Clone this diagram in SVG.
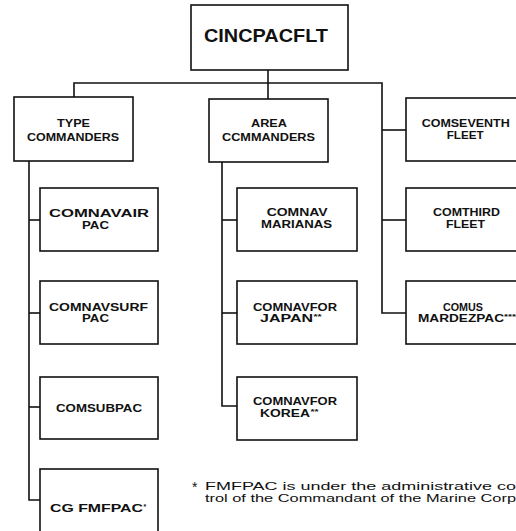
<svg xmlns="http://www.w3.org/2000/svg" width="516" height="531" viewBox="0 0 516 531">
<style>
.box{fill:#fff;stroke:#111;stroke-width:1.6}
.lbl{font-family:"Liberation Sans",Arial,sans-serif;font-weight:bold;font-size:11px;fill:#111}
.ast{font-family:"Liberation Sans",Arial,sans-serif;font-weight:bold;font-size:7px;fill:#111}
.conn{fill:none;stroke:#111;stroke-width:1.6}
.note{font-family:"Liberation Sans",Arial,sans-serif;font-size:11.5px;fill:#111}
</style>
<rect width="516" height="531" fill="#fff"/>
<g id="connectors" class="conn">
<path d="M268 70 V99"/>
<path d="M74 97 V83 H382 V313 H406"/>
<path d="M382 130 H406"/>
<path d="M382 220 H406"/>
<path d="M29 161 V500 H40"/>
<path d="M29 220 H40"/>
<path d="M29 313 H40"/>
<path d="M29 407 H40"/>
<path d="M222 162 V406 H237"/>
<path d="M222 220 H237"/>
<path d="M222 313 H237"/>
</g>
<g id="cincpacflt">
<rect class="box" x="191" y="5" width="157" height="65"/>
<text class="lbl" x="204" y="42" style="font-size:19px" textLength="124" lengthAdjust="spacingAndGlyphs">CINCPACFLT</text>
</g>
<g id="type-commanders">
<rect class="box" x="14" y="97" width="119" height="64"/>
<text class="lbl" x="57" y="127" textLength="33" lengthAdjust="spacingAndGlyphs">TYPE</text>
<text class="lbl" x="27" y="141" textLength="92" lengthAdjust="spacingAndGlyphs">COMMANDERS</text>
</g>
<g id="area-commanders">
<rect class="box" x="209" y="99" width="119" height="63"/>
<text class="lbl" x="251" y="127" textLength="36" lengthAdjust="spacingAndGlyphs">AREA</text>
<text class="lbl" x="222" y="141" textLength="93" lengthAdjust="spacingAndGlyphs">CCMMANDERS</text>
</g>
<g id="comseventh-fleet">
<rect class="box" x="406" y="98" width="119" height="63"/>
<text class="lbl" x="421.7" y="126.7" textLength="88" lengthAdjust="spacingAndGlyphs">COMSEVENTH</text>
<text class="lbl" x="446.7" y="139" textLength="37" lengthAdjust="spacingAndGlyphs">FLEET</text>
</g>
<g id="comnavair-pac">
<rect class="box" x="40" y="188" width="118" height="63"/>
<text class="lbl" x="49" y="217" textLength="100" lengthAdjust="spacingAndGlyphs">COMNAVAIR</text>
<text class="lbl" x="82" y="229" textLength="27" lengthAdjust="spacingAndGlyphs">PAC</text>
</g>
<g id="comnavsurf-pac">
<rect class="box" x="40" y="281" width="118" height="63"/>
<text class="lbl" x="49" y="310.5" textLength="99" lengthAdjust="spacingAndGlyphs">COMNAVSURF</text>
<text class="lbl" x="82" y="322" textLength="27" lengthAdjust="spacingAndGlyphs">PAC</text>
</g>
<g id="comsubpac">
<rect class="box" x="40" y="377" width="118" height="62"/>
<text class="lbl" x="56" y="412" textLength="86" lengthAdjust="spacingAndGlyphs">COMSUBPAC</text>
</g>
<g id="cg-fmfpac">
<rect class="box" x="40" y="469" width="118" height="66"/>
<text class="lbl" x="50" y="512" textLength="93" lengthAdjust="spacingAndGlyphs">CG FMFPAC</text>
<text class="ast" x="143.5" y="509">*</text>
</g>
<g id="comnav-marianas">
<rect class="box" x="237" y="188" width="120" height="63"/>
<text class="lbl" x="266.7" y="215.7" textLength="61" lengthAdjust="spacingAndGlyphs">COMNAV</text>
<text class="lbl" x="261" y="228.3" textLength="71" lengthAdjust="spacingAndGlyphs">MARIANAS</text>
</g>
<g id="comnavfor-japan">
<rect class="box" x="237" y="281" width="120" height="63"/>
<text class="lbl" x="253" y="310.5" textLength="84" lengthAdjust="spacingAndGlyphs">COMNAVFOR</text>
<text class="lbl" x="260" y="322" textLength="53" lengthAdjust="spacingAndGlyphs">JAPAN</text>
<text class="ast" x="313.5" y="319" textLength="8" lengthAdjust="spacingAndGlyphs">**</text>
</g>
<g id="comnavfor-korea">
<rect class="box" x="237" y="377" width="120" height="63"/>
<text class="lbl" x="253" y="405" textLength="84" lengthAdjust="spacingAndGlyphs">COMNAVFOR</text>
<text class="lbl" x="260" y="417" textLength="50" lengthAdjust="spacingAndGlyphs">KOREA</text>
<text class="ast" x="310.5" y="414" textLength="8" lengthAdjust="spacingAndGlyphs">**</text>
</g>
<g id="comthird-fleet">
<rect class="box" x="406" y="188" width="119" height="63"/>
<text class="lbl" x="433" y="215.7" textLength="67" lengthAdjust="spacingAndGlyphs">COMTHIRD</text>
<text class="lbl" x="446" y="228.3" textLength="39" lengthAdjust="spacingAndGlyphs">FLEET</text>
</g>
<g id="comus-mardezpac">
<rect class="box" x="406" y="281" width="119" height="63"/>
<text class="lbl" x="443" y="310.5" textLength="40" lengthAdjust="spacingAndGlyphs">COMUS</text>
<text class="lbl" x="418" y="322" textLength="86" lengthAdjust="spacingAndGlyphs">MARDEZPAC</text>
<text class="ast" x="504" y="319" textLength="12" lengthAdjust="spacingAndGlyphs">***</text>
</g>
<g id="footnote">
<text class="note" x="192" y="492" style="font-size:14px">*</text>
<text class="note" x="205" y="490" textLength="311" lengthAdjust="spacingAndGlyphs">FMFPAC is under the administrative co</text>
<text class="note" x="205" y="502" textLength="311" lengthAdjust="spacingAndGlyphs">trol of the Commandant of the Marine Corp</text>
</g>
</svg>
